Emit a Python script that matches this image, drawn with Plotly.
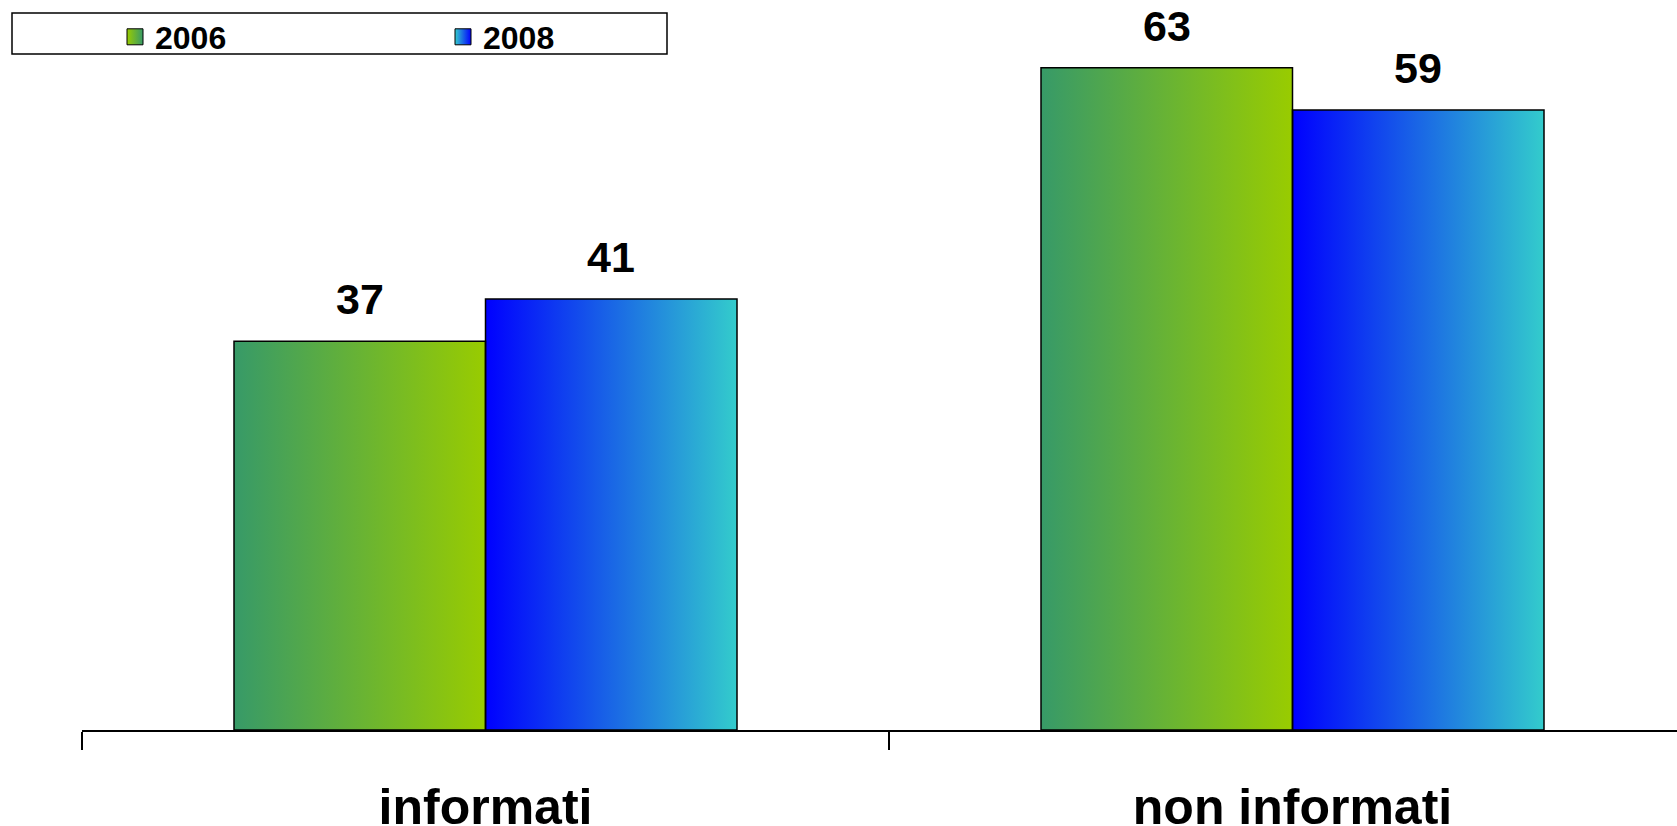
import plotly.graph_objects as go

# ---------------- data ----------------
categories = ["informati", "non informati"]
series_names = ["2006", "2008"]
values_2006 = [37, 63]
values_2008 = [41, 59]
series_values = [values_2006, values_2008]

# ---------------- style ----------------
gradient_colors = [["#379a68", "#99cc00"], ["#0000ff", "#33cccc"]]
FONT = "Liberation Sans"
BARGAP = 0.3767
bar_w = (1 - BARGAP) / 2
x_idx = list(range(len(categories)))

W, H = 1677, 826
ML, MR, MT, MB = 82, 0, 0, 96
plot_w = W - ML - MR
plot_h = H - MT - MB
x_range = [-0.5, -0.5 + plot_w / 807.0]
y_range = [0, plot_h / 10.51]

fig = go.Figure()

# gradient fills of the bars (main axes)
for j, (vals, cols) in enumerate(zip(series_values, gradient_colors)):
    for i, v in zip(x_idx, vals):
        x0 = i - bar_w + j * bar_w
        x1 = x0 + bar_w
        fig.add_trace(go.Scatter(
            x=[x0, x1, x1, x0, x0], y=[0, 0, v, v, 0],
            mode="none", fill="toself",
            fillgradient=dict(type="horizontal",
                              colorscale=[[0, cols[0]], [1, cols[1]]],
                              start=x0, stop=x1),
            showlegend=False, hoverinfo="skip"))

# bars (outline) on an overlaid pair of axes with identical scales
for name, vals in zip(series_names, series_values):
    fig.add_trace(go.Bar(
        x=x_idx, y=vals, name=name, xaxis="x2", yaxis="y2",
        marker=dict(color="rgba(0,0,0,0)", line=dict(color="black", width=1.5)),
        showlegend=False))

# legend entries with gradient swatches
for name, cols in zip(series_names, gradient_colors):
    fig.add_trace(go.Scatter(
        x=[None], y=[None], mode="markers", name=name,
        marker=dict(symbol="square", size=16, color=cols[1],
                    gradient=dict(type="horizontal", color=cols[0]),
                    line=dict(color="black", width=1))))

# value labels
for j, vals in enumerate(series_values):
    for i, v in zip(x_idx, vals):
        fig.add_annotation(
            x=i - bar_w / 2 + j * bar_w, y=v, xref="x", yref="y",
            text=str(v), showarrow=False, yanchor="bottom", yshift=16,
            font=dict(family=FONT, size=43, color="black", weight="bold"))

# legend frame
fig.add_shape(type="rect", xref="paper", yref="paper",
              x0=(12 - ML) / plot_w, x1=(667 - ML) / plot_w,
              y0=1 - (54 - MT) / plot_h, y1=1 - (13 - MT) / plot_h,
              line=dict(color="black", width=1.5), fillcolor="white", layer="below")

fig.update_layout(
    width=W, height=H,
    margin=dict(l=ML, r=MR, t=MT, b=MB, pad=0, autoexpand=False),
    paper_bgcolor="white", plot_bgcolor="rgba(0,0,0,0)",
    barmode="group", bargap=BARGAP, bargroupgap=0,
    showlegend=True,
    legend=dict(orientation="h", x=(115 - ML) / plot_w, xanchor="left",
                y=1 - (37 - MT) / plot_h, yanchor="middle",
                entrywidth=283, entrywidthmode="pixels",
                bgcolor="rgba(0,0,0,0)", borderwidth=0,
                font=dict(family=FONT, size=32, color="black", weight="bold")),
    xaxis=dict(range=x_range, tickmode="array", tickvals=x_idx, ticktext=categories,
               ticks="", showline=True, linecolor="black", linewidth=2,
               showgrid=False, zeroline=False, ticklabelstandoff=32, automargin=False,
               tickfont=dict(family=FONT, size=50, color="black", weight="bold"),
               minor=dict(tickmode="array", tickvals=[-0.5, 0.5, 1.5], ticks="outside",
                          ticklen=18, tickwidth=1.5, tickcolor="black", showgrid=False)),
    yaxis=dict(range=y_range, visible=False, showgrid=False, zeroline=False, automargin=False),
    xaxis2=dict(range=x_range, overlaying="x", anchor="y2", visible=False),
    yaxis2=dict(range=y_range, overlaying="y", anchor="x2", visible=False),
)

fig.write_html("out.html",
               config={"displayModeBar": False},
               post_script="document.body.style.margin='0px';document.body.style.padding='0px';")
